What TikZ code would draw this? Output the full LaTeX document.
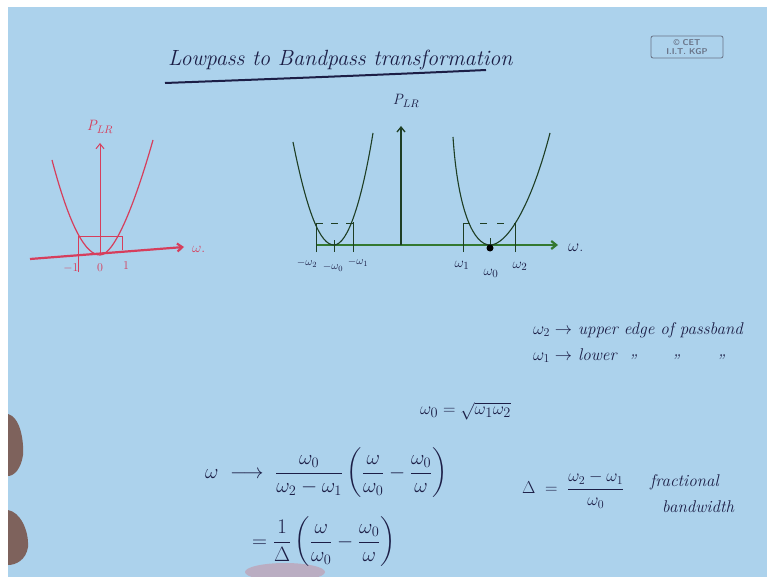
\documentclass[tikz,border=0pt]{standalone}
\usepackage{amsmath}
\usetikzlibrary{arrows.meta}
\definecolor{board}{RGB}{172,210,236}
\definecolor{ink}{RGB}{28,30,70}
\definecolor{redink}{RGB}{214,62,92}
\definecolor{greenaxis}{RGB}{52,120,48}
\definecolor{greenink}{RGB}{30,62,36}
\definecolor{stamp}{RGB}{105,115,135}
\definecolor{skin}{RGB}{118,78,66}
\tikzset{
  hw/.style={text=ink, inner sep=0pt, font=\fontsize{17}{20}\selectfont\itshape},
  eqn/.style={text=ink, inner sep=0pt, font=\fontsize{19}{22}\selectfont},
  lbl/.style={inner sep=0pt, font=\fontsize{12}{14}\selectfont},
  redcurve/.style={draw=redink, line width=1.2pt},
  greencurve/.style={draw=greenink, line width=1.1pt},
  axarrow/.style={-{Straight Barb[length=5pt,width=8pt]}},
}
\begin{document}
\begin{tikzpicture}[x=1pt,y=-1pt]
\useasboundingbox (0,0) rectangle (767,577);
% board
\fill[white] (0,0) rectangle (767,577);
\fill[board] (8,7) rectangle (767,577);
% hand and shadow
\fill[skin!85!board] (8,414) .. controls (20,417) and (24,440) .. (23,455) .. controls (21,469) and (14,476) .. (8,476) -- cycle;
\fill[skin!85!board] (8,510) .. controls (20,512) and (29,530) .. (28,547) .. controls (26,560) and (16,565) .. (8,565) -- cycle;
\fill[red!25!board, opacity=0.7] (285,572) ellipse [x radius=40, y radius=9];

% title
\node[hw, font=\fontsize{22}{26}\selectfont\itshape, anchor=base west] (title) at (168,66) {Lowpass to Bandpass transformation};
\draw[ink, line width=2pt] (165,83) .. controls (300,78) and (400,74) .. (486,70);

% stamp
\node[draw=stamp, line width=0.8pt, rounded corners=2pt, minimum width=72pt, minimum height=22pt,
      text=stamp, align=center, inner sep=1pt, font=\fontsize{8.5}{8.5}\sffamily\bfseries] (cet) at (687,47) {\copyright\ CET\\I.I.T. KGP};

% ---- left (lowpass) plot
\coordinate (lo) at (100,255);
\coordinate (lxs) at (30,259);
\coordinate (lxe) at (184,247);
\coordinate (lyt) at (100,143);
\draw[redink, line width=2.2pt, axarrow] (lxs) -- (lxe);
\draw[redink, line width=1pt, axarrow] (lo) -- (lyt);
\node[lbl, text=redink, font=\fontsize{15}{17}\selectfont\itshape] (plr1) at (100,127) {P$_{LR}$};
\node[lbl, text=redink, anchor=west, font=\fontsize{14}{16}\selectfont] (w1) at (192,249) {$\omega$.};
\draw[redcurve] (52,160) .. controls (70,228) and (86,255) .. (lo) .. controls (115,255) and (136,200) .. (153,140);
\draw[redink, line width=0.9pt] (78,272) -- (78,236) -- (122,236) -- (122,250);
\node[lbl, text=redink] (tm1) at (71,268) {$-1$};
\node[lbl, text=redink] (t0) at (100,268) {$0$};
\node[lbl, text=redink] (t1) at (126,266) {$1$};

% ---- right (bandpass) plot
\coordinate (o) at (401,245);
\coordinate (xs) at (316,245);
\coordinate (xe) at (558,245);
\coordinate (yt) at (401,126);
\draw[greenaxis, line width=2.2pt, axarrow] (xs) -- (xe);
\draw[greenink, line width=1.3pt, axarrow] (o) -- (yt);
\node[lbl, text=ink, font=\fontsize{15}{17}\selectfont\itshape] (plr2) at (406,101) {P$_{LR}$};
\node[lbl, text=ink, anchor=west, font=\fontsize{16}{18}\selectfont] (w2) at (568,248) {$\omega$.};
\coordinate (m1) at (334,245);
\coordinate (m2) at (490,245);
\draw[greencurve] (293,142) .. controls (307,212) and (320,245) .. (m1) .. controls (348,245) and (362,200) .. (373,133);
\draw[greencurve] (453,137) .. controls (458,212) and (474,245) .. (m2) .. controls (506,245) and (530,210) .. (550,133);
% passband rectangles
\draw[greenink, line width=0.9pt] (316,252) -- (316,223);
\draw[greenink, line width=0.9pt] (353,252) -- (353,222);
\draw[greenink, line width=0.9pt, dash pattern=on 7pt off 8pt] (316,223) -- (353,223);
\draw[greenink, line width=0.9pt] (334,240) -- (334,252);
\draw[greenink, line width=0.9pt] (463,252) -- (463,223);
\draw[greenink, line width=0.9pt] (515,252) -- (515,223);
\draw[greenink, line width=0.9pt, dash pattern=on 7pt off 10pt] (463,223) -- (515,223);
\draw[greenink, line width=0.9pt] (490,238) -- (490,248);
\fill[black] (m2) ++(0,3) circle (3.5pt);
\node[lbl, text=ink, font=\fontsize{11}{13}\selectfont] (lw2) at (307,263) {$-\omega_2$};
\node[lbl, text=ink, font=\fontsize{11}{13}\selectfont] (lw0) at (333,267) {$-\omega_0$};
\node[lbl, text=ink, font=\fontsize{11}{13}\selectfont] (lw1) at (358,262) {$-\omega_1$};
\node[lbl, text=ink, font=\fontsize{15}{17}\selectfont] (rw1) at (462,265) {$\omega_1$};
\node[lbl, text=ink, font=\fontsize{15}{17}\selectfont] (rw0) at (491,273) {$\omega_0$};
\node[lbl, text=ink, font=\fontsize{15}{17}\selectfont] (rw2) at (520,266) {$\omega_2$};

% ---- notes
\node[hw, anchor=base west] (n1) at (533,334) {$\omega_2\rightarrow$ upper edge of passband};
\node[hw, anchor=base west] (n2) at (533,360) {$\omega_1\rightarrow$ lower};
\node[hw] (d1) at (632,361) {''};
\node[hw] (d2) at (675,361) {''};
\node[hw] (d3) at (720,361) {''};

\node[eqn, anchor=west] (w0eq) at (420,411) {$\omega_0=\sqrt{\omega_1\omega_2}$};

\node[eqn, font=\fontsize{21}{24}\selectfont, anchor=west] (eq1) at (205,473) {$\displaystyle \omega\;\longrightarrow\;\frac{\omega_0}{\omega_2-\omega_1}\left(\frac{\omega}{\omega_0}-\frac{\omega_0}{\omega}\right)$};
\node[eqn, font=\fontsize{21}{24}\selectfont, anchor=west] (eq2) at (252,542) {$\displaystyle =\frac{1}{\Delta}\left(\frac{\omega}{\omega_0}-\frac{\omega_0}{\omega}\right)$};

\node[eqn, font=\fontsize{17}{20}\selectfont, anchor=west] (deq) at (522,490) {$\displaystyle \Delta\;=\;\frac{\omega_2-\omega_1}{\omega_0}$};
\node[hw, anchor=west] (frac) at (650,482) {fractional};
\node[hw, anchor=west] (bw) at (662,507) {bandwidth};
\end{tikzpicture}
\end{document}
